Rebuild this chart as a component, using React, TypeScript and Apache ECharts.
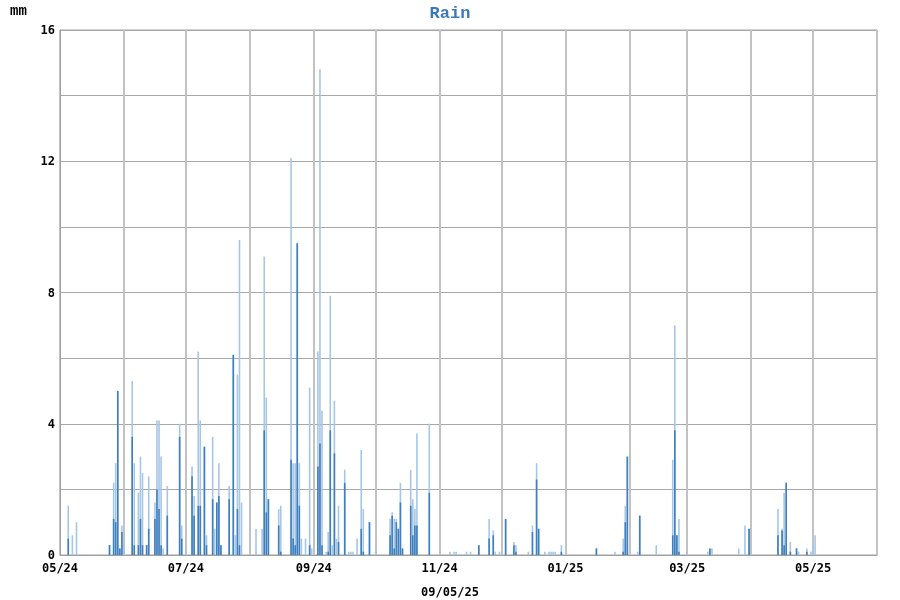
import React, { useEffect, useRef } from "react";
import * as echarts from "echarts";

// Rain events: date, total (light bar top) and core (darker lower part), mm
const rainDates = [
  "2024-05-05", "2024-05-07", "2024-05-09", "2024-05-25", "2024-05-27", "2024-05-28", "2024-05-29", "2024-05-30", "2024-05-31",
  "2024-06-01", "2024-06-05", "2024-06-06", "2024-06-08", "2024-06-09", "2024-06-10", "2024-06-12", "2024-06-13", "2024-06-16",
  "2024-06-17", "2024-06-18", "2024-06-19", "2024-06-20", "2024-06-22", "2024-06-28", "2024-06-29",
  "2024-07-01", "2024-07-04", "2024-07-05", "2024-07-07", "2024-07-08", "2024-07-10", "2024-07-11", "2024-07-14", "2024-07-15",
  "2024-07-16", "2024-07-17", "2024-07-18", "2024-07-22", "2024-07-24", "2024-07-25", "2024-07-26", "2024-07-27", "2024-07-28",
  "2024-08-04", "2024-08-07", "2024-08-08", "2024-08-09", "2024-08-10", "2024-08-15", "2024-08-16", "2024-08-21", "2024-08-22",
  "2024-08-23", "2024-08-24", "2024-08-25", "2024-08-26", "2024-08-28", "2024-08-30", "2024-08-31",
  "2024-09-03", "2024-09-04", "2024-09-05", "2024-09-07", "2024-09-08", "2024-09-09", "2024-09-10", "2024-09-11", "2024-09-12",
  "2024-09-13", "2024-09-16", "2024-09-18", "2024-09-19", "2024-09-20", "2024-09-22", "2024-09-24", "2024-09-25", "2024-09-28",
  "2024-10-01", "2024-10-08", "2024-10-09", "2024-10-10", "2024-10-11", "2024-10-12", "2024-10-13", "2024-10-14", "2024-10-18",
  "2024-10-19", "2024-10-20", "2024-10-21", "2024-10-27",
  "2024-11-06", "2024-11-08", "2024-11-09", "2024-11-14", "2024-11-16", "2024-11-20", "2024-11-25", "2024-11-27", "2024-11-28",
  "2024-11-30", "2024-12-03", "2024-12-07", "2024-12-08", "2024-12-14", "2024-12-16", "2024-12-18", "2024-12-19", "2024-12-22",
  "2024-12-24", "2024-12-25", "2024-12-26", "2024-12-27", "2024-12-30",
  "2025-01-16", "2025-01-25", "2025-01-29", "2025-01-30", "2025-01-31", "2025-02-05", "2025-02-06", "2025-02-14", "2025-02-22",
  "2025-02-23", "2025-02-24", "2025-02-25", "2025-03-01", "2025-03-11", "2025-03-12", "2025-03-13", "2025-03-26", "2025-03-29",
  "2025-03-31", "2025-04-14", "2025-04-16", "2025-04-17", "2025-04-18", "2025-04-20", "2025-04-23", "2025-04-24", "2025-04-28",
  "2025-04-30", "2025-05-01", "2025-05-02",
];

const rainTotal = [
  1.5, 0.6, 1.0, 0.3, 2.2, 2.8, 5.0, 0.2, 0.9,
  0.3, 5.3, 2.8, 1.9, 3.0, 2.5, 0.3, 2.4, 1.6,
  4.1, 4.1, 3.0, 0.2, 2.1, 4.0, 0.9,
  0.2, 2.7, 1.8, 6.2, 4.1, 3.3, 0.6, 3.6, 0.8,
  1.6, 2.8, 0.3, 2.1, 6.1, 0.6, 5.5, 9.6, 1.6,
  0.8, 0.8, 9.1, 4.8, 1.7, 1.4, 1.5, 12.1, 2.8,
  2.8, 9.5, 2.8, 0.5, 0.5, 5.1, 0.2,
  6.2, 14.8, 4.4, 0.1, 0.7, 7.9, 0.3, 4.7, 0.5,
  1.5, 2.6, 0.1, 0.1, 0.1, 0.5, 3.2, 1.4, 1.0,
  0.1, 1.1, 1.3, 1.1, 1.1, 0.8, 2.2, 0.2, 2.6,
  1.7, 1.4, 3.7, 4.0,
  0.1, 0.1, 0.1, 0.1, 0.1, 0.3, 1.1, 0.75, 0.1,
  0.1, 1.1, 0.4, 0.3, 0.1, 0.9, 2.8, 0.8, 0.1,
  0.1, 0.1, 0.1, 0.1, 0.3,
  0.2, 0.1, 0.5, 1.5, 3.0, 0.1, 1.2, 0.3, 2.9,
  7.0, 0.6, 1.1, 0.1, 0.1, 0.2, 0.2, 0.2, 0.9,
  0.8, 1.4, 0.8, 1.9, 2.2, 0.4, 0.2, 0.1, 0.2,
  0.1, 0.3, 0.6,
];

const rainCore = [
  0.5, 0, 0, 0.3, 1.1, 1.0, 5.0, 0.2, 0.7,
  0, 3.6, 0.3, 0.3, 1.1, 0.3, 0.3, 0.8, 1.1,
  2.0, 1.4, 0.3, 0, 1.2, 3.6, 0.5,
  0, 2.4, 1.2, 1.5, 1.5, 3.3, 0.3, 1.7, 0,
  1.6, 1.8, 0.3, 1.7, 6.1, 0, 1.4, 0.3, 0,
  0, 0, 3.8, 1.3, 1.7, 0.9, 0.1, 2.9, 0.5,
  0.3, 9.5, 1.5, 0, 0, 0.3, 0,
  2.7, 3.4, 0.3, 0, 0.1, 3.8, 0, 3.1, 0,
  0.4, 2.2, 0, 0, 0, 0, 0.8, 0.1, 1.0,
  0, 0.6, 1.2, 0.2, 1.0, 0.8, 1.6, 0.2, 1.5,
  0.6, 0.9, 0.9, 1.9,
  0, 0, 0, 0, 0, 0.3, 0.5, 0.6, 0,
  0, 1.1, 0.3, 0.1, 0, 0.7, 2.3, 0.8, 0,
  0, 0, 0, 0, 0.1,
  0.2, 0, 0.1, 1.0, 3.0, 0, 1.2, 0, 0.6,
  3.8, 0.6, 0.1, 0, 0, 0.2, 0, 0, 0,
  0.8, 0.6, 0.75, 0.3, 2.2, 0.1, 0.2, 0, 0.1,
  0, 0, 0,
];

const axisStart = "2024-05-01";
const axisEnd = "2025-06-01";
const yTickLabels = [0, 4, 8, 12, 16];
const updatedText = "09/05/25";

function buildDays(start: string, end: string): string[] {
  const out: string[] = [];
  const d = new Date(start + "T00:00:00Z");
  const e = new Date(end + "T00:00:00Z");
  while (d.getTime() <= e.getTime()) {
    out.push(d.toISOString().slice(0, 10));
    d.setUTCDate(d.getUTCDate() + 1);
  }
  return out;
}

export default function App() {
  const ref = useRef<HTMLDivElement>(null);

  useEffect(() => {
    if (!ref.current) return;
    const chart = echarts.init(ref.current, null, { renderer: "svg" });

    const days = buildDays(axisStart, axisEnd);
    const totalMap: Record<string, number> = {};
    const coreMap: Record<string, number> = {};
    rainDates.forEach((d, i) => {
      totalMap[d] = rainTotal[i];
      coreMap[d] = rainCore[i];
    });
    const totalData = days.map((d) => (totalMap[d] ? totalMap[d] : null));
    const coreData = days.map((d) => (coreMap[d] ? coreMap[d] : null));

    const isMonthStart = (_i: number, v: string) => v.slice(8, 10) === "01";
    const isLabelMonth = (_i: number, v: string) =>
      v.slice(8, 10) === "01" && parseInt(v.slice(5, 7), 10) % 2 === 1;

    const monoSans = "'DejaVu Sans Mono', monospace";
    const monoSerif = "'Liberation Mono', 'Courier New', monospace";

    chart.setOption({
      animation: false,
      title: {
        text: "Rain",
        left: "center",
        top: 0,
        textStyle: {
          fontFamily: monoSerif,
          fontWeight: "bold",
          fontSize: 17,
          color: "#3a7ab9",
        },
      },
      grid: {
        left: 60,
        right: 23,
        top: 30,
        bottom: 45,
        show: true,
        borderColor: "#a0a0a0",
        borderWidth: 1,
        containLabel: false,
      },
      xAxis: {
        type: "category",
        data: days,
        boundaryGap: false,
        axisLine: { show: true, lineStyle: { color: "#a0a0a0", width: 1 } },
        axisTick: { show: false },
        axisLabel: {
          interval: isLabelMonth,
          formatter: (v: string) => v.slice(5, 7) + "/" + v.slice(2, 4),
          fontFamily: monoSans,
          fontWeight: "bold",
          fontSize: 12,
          color: "#000",
          margin: 7,
          lineHeight: 12,
          showMinLabel: true,
        },
        splitLine: {
          show: true,
          interval: isMonthStart,
          lineStyle: { color: "#c2c2c2", width: 2 },
        },
      },
      yAxis: {
        type: "value",
        min: 0,
        max: 16,
        interval: 2,
        axisLine: { show: true, lineStyle: { color: "#a0a0a0", width: 1 } },
        axisTick: { show: false },
        axisLabel: {
          formatter: (v: number) => (yTickLabels.indexOf(v) >= 0 ? String(v) : ""),
          fontFamily: monoSans,
          fontWeight: "bold",
          fontSize: 12,
          lineHeight: 10,
          color: "#000",
          margin: 5,
        },
        splitLine: { show: true, lineStyle: { color: "#a8a8a8", width: 1 } },
      },
      graphic: [
        {
          type: "text",
          left: 10,
          top: 4,
          style: {
            text: "mm",
            font: "bold 14px 'Liberation Mono', monospace",
            fill: "#000",
          },
        },
        {
          type: "text",
          left: "center",
          top: 586,
          style: {
            text: updatedText,
            font: "bold 12px 'DejaVu Sans Mono', monospace",
            fill: "#000",
          },
        },
      ],
      series: [
        {
          type: "bar",
          data: totalData,
          barWidth: 1.6,
          barGap: "-100%",
          silent: true,
          itemStyle: { color: "#a6c6e5" },
        },
        {
          type: "bar",
          data: coreData,
          barWidth: 1.6,
          barGap: "-100%",
          silent: true,
          itemStyle: { color: "#3f7fbe" },
        },
      ],
    });

    return () => chart.dispose();
  }, []);

  return (
    <div
      ref={ref}
      style={{ position: "fixed", left: 0, top: 0, width: 900, height: 600 }}
    />
  );
}
